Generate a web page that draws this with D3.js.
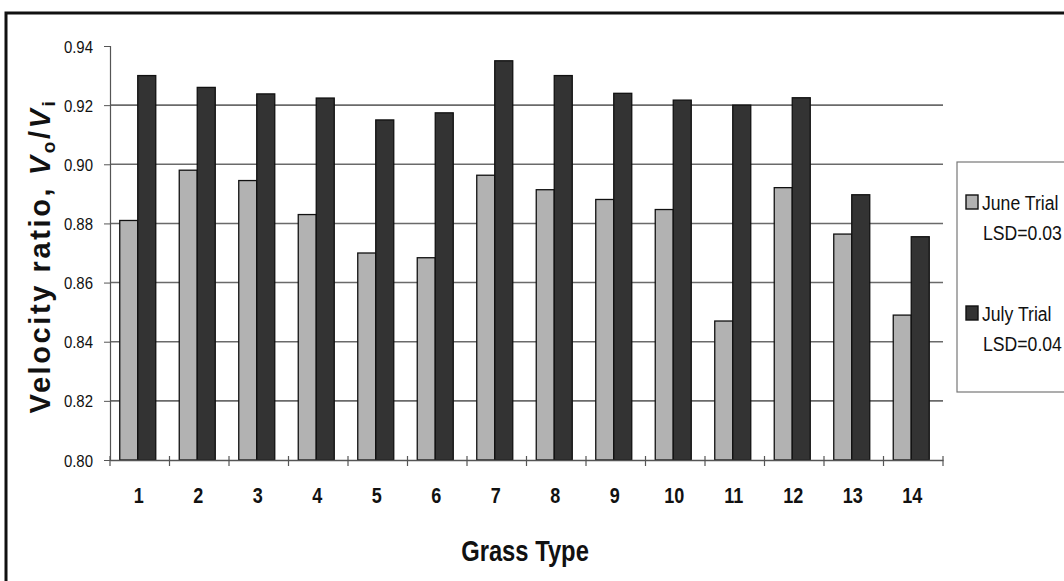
<!DOCTYPE html>
<html>
<head>
<meta charset="utf-8">
<script src="https://cdn.jsdelivr.net/npm/d3@7"></script>
<style>
  body { margin: 0; background: #fff; }
  svg text { font-family: "Liberation Sans", Arial, sans-serif; fill: #111; }
</style>
</head>
<body>
<div id="chart"></div>
<script>
const grassTypes = ['1', '2', '3', '4', '5', '6', '7', '8', '9', '10', '11', '12', '13', '14'];
const juneTrial = [0.881, 0.898, 0.8945, 0.883, 0.870, 0.8684, 0.8963, 0.8914, 0.8881, 0.8847, 0.847, 0.8921, 0.8764, 0.849];
const julyTrial = [0.930, 0.926, 0.9238, 0.9224, 0.915, 0.9174, 0.935, 0.930, 0.924, 0.9217, 0.920, 0.9225, 0.8897, 0.8755];
const yTicks = [0.80, 0.82, 0.84, 0.86, 0.88, 0.90, 0.92, 0.94];
const legendItems = [
  {name: 'June Trial', lsd: 'LSD=0.03', color: '#b2b2b2'},
  {name: 'July Trial', lsd: 'LSD=0.04', color: '#333333'},
];

const W = 1064;
const H = 581;
const margin = {top: 46, right: 121, bottom: 121, left: 110};
const width = W - margin.left - margin.right;
const height = H - margin.top - margin.bottom;
const narrow = 0.82; // no narrow font installed, squeeze horizontally

const svg = d3.select('#chart').append('svg').attr('width', W).attr('height', H);

// outer frame (runs off the right/bottom edge like the scan)
svg.append('rect')
  .attr('x', 6).attr('y', 13).attr('width', W + 10).attr('height', H + 10)
  .attr('fill', 'none').attr('stroke', '#111').attr('stroke-width', 3);

const g = svg.append('g').attr('transform', `translate(${margin.left},${margin.top})`);

const x = d3.scaleBand().domain(grassTypes).range([0, width]);
const y = d3.scaleLinear().domain([0.80, 0.94]).range([height, 0]);
const barW = 18;

// gridlines
g.append('g').selectAll('line').data(yTicks.slice(1, -1)).join('line')
  .attr('x1', 0).attr('x2', width)
  .attr('y1', d => y(d)).attr('y2', d => y(d))
  .attr('stroke', '#6a6a6a').attr('stroke-width', 1.6);

// y axis
const yAxis = d3.axisLeft(y).tickValues(yTicks).tickFormat(d3.format('.2f')).tickSize(6);
const ya = g.append('g').call(yAxis);
ya.select('.domain').attr('stroke', '#555').attr('stroke-width', 1.2);
ya.selectAll('.tick line').attr('stroke', '#555');
ya.selectAll('.tick text')
  .attr('x', null).attr('dy', '0.36em').attr('font-size', 17)
  .attr('transform', 'translate(-17,0) scale(0.88,1)');

// bars
const series = [juneTrial, julyTrial];
series.forEach((vals, si) => {
  g.append('g').selectAll('rect').data(vals).join('rect')
    .attr('x', (d, i) => x(grassTypes[i]) + x.bandwidth() / 2 - barW + si * barW - 2)
    .attr('y', d => y(d))
    .attr('width', barW)
    .attr('height', d => height - y(d))
    .attr('fill', legendItems[si].color)
    .attr('stroke', '#111').attr('stroke-width', 1.3);
});

// x axis
const xa = g.append('g').attr('transform', `translate(0,${height})`)
  .call(d3.axisBottom(x).tickSize(0));
xa.select('.domain').attr('stroke', '#555').attr('stroke-width', 1.6);
xa.selectAll('.tick text')
  .attr('y', null).attr('dy', null).attr('font-size', 22).attr('font-weight', 'bold')
  .attr('transform', `translate(-1,43) scale(${narrow},1)`);
g.append('g').selectAll('line').data(d3.range(grassTypes.length + 1)).join('line')
  .attr('x1', i => i * x.step()).attr('x2', i => i * x.step())
  .attr('y1', height - 4).attr('y2', height + 6)
  .attr('stroke', '#555').attr('stroke-width', 1.2);

// axis titles
svg.append('text')
  .attr('transform', `translate(525,561) scale(${narrow},1)`)
  .attr('text-anchor', 'middle')
  .attr('font-size', 29).attr('font-weight', 'bold')
  .text('Grass Type');

const yt = svg.append('text')
  .attr('transform', 'translate(50,256) rotate(-90)')
  .attr('text-anchor', 'middle').attr('font-size', 29).attr('font-weight', 'bold')
  .attr('letter-spacing', 2.6);
yt.append('tspan').text('Velocity ratio, ');
yt.append('tspan').attr('font-style', 'italic').text('V');
yt.append('tspan').attr('font-size', 19).attr('dy', 5).text('o');
yt.append('tspan').attr('dy', -5).text('/');
yt.append('tspan').attr('font-style', 'italic').text('V');
yt.append('tspan').attr('font-size', 19).attr('dy', 5).text('i');

// legend
const lg = svg.append('g').attr('transform', 'translate(957,162)');
lg.append('rect').attr('width', 140).attr('height', 230)
  .attr('fill', '#fff').attr('stroke', '#777').attr('stroke-width', 1.2);
legendItems.forEach((d, i) => {
  const row = lg.append('g').attr('transform', `translate(0,${32 + i * 111})`);
  row.append('rect').attr('x', 9).attr('y', 1).attr('width', 12).attr('height', 14)
    .attr('fill', d.color).attr('stroke', '#111').attr('stroke-width', 1.4);
  row.append('text').attr('transform', 'translate(25,16) scale(0.84,1)')
    .attr('font-size', 21).text(d.name);
  row.append('text').attr('transform', 'translate(26,46) scale(0.84,1)')
    .attr('font-size', 21).text(d.lsd);
});
</script>
</body>
</html>
